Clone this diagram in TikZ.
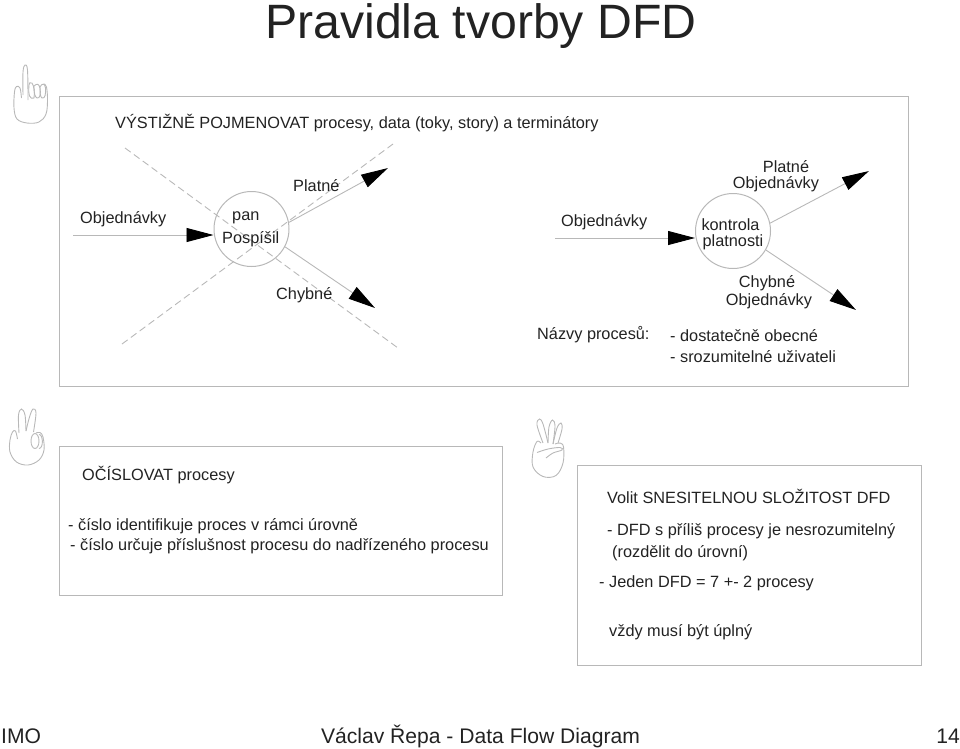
\documentclass[tikz,border=0pt]{standalone}
\usepackage{fontspec}
\setmainfont{Liberation Sans}
\usetikzlibrary{arrows.meta}
\definecolor{linegray}{HTML}{B8B8B8}
\definecolor{txt}{HTML}{222222}
\tikzset{
  framebox/.style={draw=linegray,line width=1pt},
  proc/.style={circle,draw=linegray,line width=1pt,minimum size=75pt,inner sep=0pt},
  flow/.style={draw=linegray,line width=0.9pt,-{Triangle[length=27pt,width=14pt,fill=black,color=black]},shorten >=0pt},
  guide/.style={draw=linegray,line width=0.9pt,dashed,dash pattern=on 7pt off 4pt},
  lbl/.style={text=txt,font=\fontsize{16.3}{18}\selectfont,inner sep=0pt},
  lblw/.style={lbl,anchor=west},
  hand/.style={draw=linegray,line width=0.9pt},
}
\begin{document}
\begin{tikzpicture}[x=1pt,y=-1pt]
\useasboundingbox (0,0) rectangle (960,748);
% frames
\draw[framebox] (59,96) rectangle (908,386);
\draw[framebox] (59,446) rectangle (502,595);
\draw[framebox] (577,465) rectangle (921,665);
% title and footer
\node[lbl,anchor=base,font=\fontsize{48.2}{50}\selectfont] (title) at (481,38) {Pravidla tvorby DFD};
\node[lblw,font=\fontsize{21.1}{24}\selectfont] (imo) at (1,736) {IMO};
\node[lbl,font=\fontsize{21.1}{24}\selectfont] (foot) at (480.5,736) {Václav Řepa - Data Flow Diagram};
\node[lbl,anchor=east,font=\fontsize{21.1}{24}\selectfont] (pg) at (960,736) {14};
% dashed guides
\coordinate (d1a) at (125,148); \coordinate (d1b) at (398,348);
\coordinate (d2a) at (122,344); \coordinate (d2b) at (393,144);
\draw[guide] (d1a) -- (d1b);
\draw[guide] (d2a) -- (d2b);
% left process
\node[proc] (p1) at (251.5,229) {};
\coordinate (i1) at (73,235);
\coordinate (o1) at (388,168);
\coordinate (o2) at (375,308);
\draw[flow] (i1) -- (p1.west |- i1);
\draw[flow] (p1.10) -- (o1);
\draw[flow] (p1.-28) -- (o2);
% right process
\node[proc] (p2) at (733,231) {};
\coordinate (i2) at (555,238);
\coordinate (o3) at (869,171);
\coordinate (o4) at (856,310);
\draw[flow] (i2) -- (p2.west |- i2);
\draw[flow] (p2.12) -- (o3);
\draw[flow] (p2.-30) -- (o4);
% texts top
\node[lblw] (t1) at (115,123.5) {VÝSTIŽNĚ POJMENOVAT procesy, data (toky, story) a terminátory};
\node[lblw] (l1) at (80,219.5) {Objednávky};
\node[lblw] (l2) at (232,217.5) {pan};
\node[lblw] (l3) at (222,239.5) {Pospíšil};
\node[lblw] (l4) at (293,186) {Platné};
\node[lblw] (l5) at (276,295) {Chybné};
\node[lblw] (l6) at (561,222) {Objednávky};
\node[lbl] (l7) at (786,167) {Platné};
\node[lbl] (l8) at (776,184) {Objednávky};
\node[lbl] (l9) at (730.5,225) {kontrola};
\node[lbl] (l10) at (733,242) {platnosti};
\node[lbl] (l11) at (767,283) {Chybné};
\node[lbl] (l12) at (769,301) {Objednávky};
\node[lblw] (l13) at (537,335) {Názvy procesů:};
\node[lblw] (l14) at (670,336) {- dostatečně obecné};
\node[lblw] (l15) at (670,357) {- srozumitelné uživateli};
% left box
\node[lblw] (b1) at (82,475) {OČÍSLOVAT procesy};
\node[lblw] (b2) at (68,526.5) {- číslo identifikuje proces v rámci úrovně};
\node[lblw] (b3) at (70,546.5) {- číslo určuje příslušnost procesu do nadřízeného procesu};
% right box
\node[lblw] (c1) at (607,496) {Volit SNESITELNOU SLOŽITOST DFD};
\node[lblw] (c2) at (607,531) {- DFD s příliš procesy je nesrozumitelný};
\node[lblw] (c3) at (612,553) {(rozdělit do úrovní)};
\node[lblw] (c4) at (599,583) {- Jeden DFD = 7 +- 2 procesy};
\node[lblw] (c5) at (609,632) {vždy musí být úplný};
% hand 1
\draw[hand] plot[smooth,tension=.6] coordinates {(21.5,98) (20,88) (16.5,86.5) (14.5,92) (14,108) (17,119) (27,123) (39,122) (46,114) (47.5,100) (46.5,87) (44,84)};
\draw[hand] plot[smooth,tension=.6] coordinates {(23,95) (23,72) (25,65) (27.5,70) (28,100)};
\draw[hand] (29,85) .. controls (28,95) and (30,100) .. (34,98) .. controls (35,92) and (34,86) .. (32,83) .. controls (30,82) and (29,83) .. (29,85);
\draw[hand] (34,86) .. controls (37,83) and (39,84) .. (40,88) .. controls (41,93) and (40,99) .. (37,98) .. controls (35,97) and (34,94) .. (34,86);
\draw[hand] (40,87) .. controls (42,83) and (45,83) .. (45.5,88) .. controls (46,94) and (45,99) .. (42,98) .. controls (40,97) and (40,92) .. (40,87);
% hand 2
\draw[hand] plot[smooth,tension=.6] coordinates {(17.5,439) (15.5,431) (12.5,432) (10,440) (10,452) (16.5,462) (28,465) (39,460) (44,450) (43,437) (40,432.5) (36,433)};
\draw[hand] plot[smooth,tension=.6] coordinates {(19,433) (18.5,415) (21.5,409) (25,415) (26,431)};
\draw[hand] plot[smooth,tension=.6] coordinates {(26,431) (29.5,417) (33,409) (36,413) (33.5,432)};
\draw[hand] (35,441) ellipse (4pt and 7.5pt);
\draw[hand] (39,434.5) .. controls (43,434) and (44,448) .. (39,448.5);
% hand 3
\draw[hand] plot[smooth,tension=.6] coordinates {(541,443) (537,441.5) (533,452) (533,467) (543,476.5) (556,475.5) (563,463) (563.5,447) (560,443) (555,444)};
\draw[hand] plot[smooth,tension=.6] coordinates {(543,443) (537,425) (539.5,419) (543,424) (548,443)};
\draw[hand] plot[smooth,tension=.6] coordinates {(548,443) (549,427) (552.5,420) (555,426) (553,444)};
\draw[hand] plot[smooth,tension=.6] coordinates {(553,444) (557,428) (561,423) (562,429) (558,443)};
\draw[hand] plot[smooth,tension=.6] coordinates {(537,452.5) (548,449) (560,447.5) (562,450) (553,453) (546,458)};
\end{tikzpicture}
\end{document}
